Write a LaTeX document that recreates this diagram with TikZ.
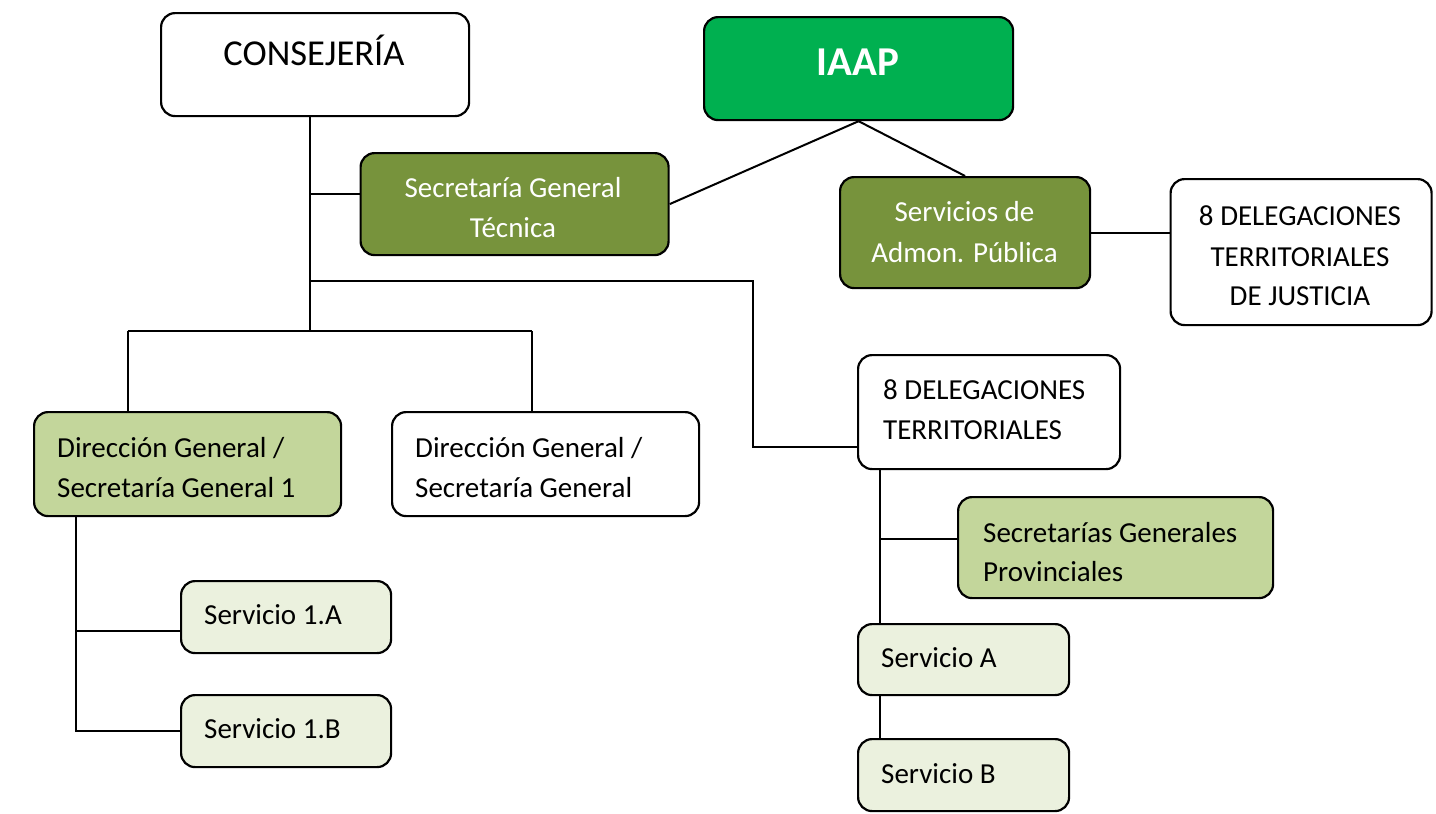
\documentclass[tikz,border=0pt]{standalone}
\usepackage{fontspec}
\setmainfont{Carlito}
\usetikzlibrary{calc}
\definecolor{iaapgreen}{HTML}{00B050}
\definecolor{olive}{HTML}{77933C}
\definecolor{lightolive}{HTML}{C3D69B}
\definecolor{paleolive}{HTML}{EBF1DE}
\begin{document}
\begin{tikzpicture}[x=1pt,y=-1pt,
  box/.style={draw=black, line width=2.2pt, rounded corners=14pt, inner sep=0pt, anchor=north west},
  conn/.style={draw=black, line width=2pt},
  txt/.style={font=\fontsize{29}{40}\selectfont, inner sep=0pt},
  wtxt/.style={txt, text=white},
]
\useasboundingbox (0,0) rectangle (1436,814);

% boxes
\node[box, fill=white, minimum width=308pt, minimum height=103pt] (cons) at (160,12) {};
\node[box, fill=iaapgreen, minimum width=309pt, minimum height=103pt] (iaap) at (703,16) {};
\node[box, fill=olive, minimum width=308pt, minimum height=102pt] (sgt) at (359.5,152) {};
\node[box, fill=olive, minimum width=250pt, minimum height=111pt] (sap) at (839,176) {};
\node[box, fill=white, minimum width=261pt, minimum height=146pt] (just) at (1169.5,178) {};
\node[box, fill=white, minimum width=262pt, minimum height=114pt] (del) at (857,354) {};
\node[box, fill=lightolive, minimum width=315pt, minimum height=101pt] (sgp) at (957,496) {};
\node[box, fill=paleolive, minimum width=211pt, minimum height=71pt] (sa) at (857,623) {};
\node[box, fill=paleolive, minimum width=211pt, minimum height=72pt] (sb) at (857,738) {};
\node[box, fill=lightolive, minimum width=307pt, minimum height=104pt] (dg1) at (33,411) {};
\node[box, fill=white, minimum width=307pt, minimum height=104pt] (dg2) at (391,411) {};
\node[box, fill=paleolive, minimum width=210pt, minimum height=72pt] (s1a) at (180,580) {};
\node[box, fill=paleolive, minimum width=210pt, minimum height=72pt] (s1b) at (180,694) {};

% texts
\node[txt, font=\fontsize{36.5}{40}\selectfont, anchor=base] (cons-t) at (314,65) {CONSEJERÍA};
\node[wtxt, font=\fontsize{41}{40}\selectfont\bfseries, anchor=base] (iaap-t) at (858,75) {IAAP};
\node[wtxt, anchor=base] (sgt-t1) at (513,197) {Secretaría General};
\node[wtxt, anchor=base] (sgt-t2) at (513,237) {Técnica};
\node[wtxt, anchor=base] (sap-t1) at (964.5,221) {Servicios de};
\node[wtxt, anchor=base] (sap-t2) at (964.5,262) {Admon. Pública};
\node[txt, anchor=base] (just-t1) at (1300,225) {8 DELEGACIONES};
\node[txt, anchor=base] (just-t2) at (1300,266) {TERRITORIALES};
\node[txt, anchor=base] (just-t3) at (1300,305) {DE JUSTICIA};
\node[txt, anchor=base west] (del-t1) at (883,399) {8 DELEGACIONES};
\node[txt, anchor=base west] (del-t2) at (883,439) {TERRITORIALES};
\node[txt, anchor=base west] (sgp-t1) at (983,542) {Secretarías Generales};
\node[txt, anchor=base west] (sgp-t2) at (983,581) {Provinciales};
\node[txt, anchor=base west] (sa-t) at (881,667) {Servicio A};
\node[txt, anchor=base west] (sb-t) at (881,783) {Servicio B};
\node[txt, anchor=base west] (dg1-t1) at (57,457) {Dirección General /};
\node[txt, anchor=base west] (dg1-t2) at (57,497) {Secretaría General 1};
\node[txt, anchor=base west] (dg2-t1) at (415,457) {Dirección General /};
\node[txt, anchor=base west] (dg2-t2) at (415,497) {Secretaría General};
\node[txt, anchor=base west] (s1a-t) at (204,624) {Servicio 1.A};
\node[txt, anchor=base west] (s1b-t) at (204,738) {Servicio 1.B};

% junctions
\coordinate (jA) at (309.5,194);
\coordinate (jB) at (309.5,281);
\coordinate (jC) at (309.5,331);
\coordinate (jD) at (753,281);
\coordinate (jE) at (753,447);
\coordinate (jF) at (127.5,331);
\coordinate (jG) at (532,331);
\coordinate (jH) at (76,731);
\coordinate (jI) at (76,631);
\coordinate (jJ) at (880,539);

% connectors
\draw[conn] (cons.south -| jC) -- (jC);
\draw[conn] (jA) -- (sgt.west |- jA);
\draw[conn] (jB) -- (jD) -- (jE) -- (jE -| del.west);
\draw[conn] (jF) -- (jG);
\draw[conn] (jF) -- (jF |- dg1.north);
\draw[conn] (jG) -- (jG |- dg2.north);
\draw[conn] (iaap.south) -- (sgt.east);
\draw[conn] (iaap.south) -- (sap.north);
\draw[conn] (sap.east) -- (just.west |- sap.east);
\draw[conn] (dg1.south -| jH) -- (jH) -- (jH -| s1b.west);
\draw[conn] (jI) -- (jI -| s1a.west);
\draw[conn] (del.south -| jJ) -- (sa.north -| jJ);
\draw[conn] (jJ) -- (jJ -| sgp.west);
\draw[conn] (sa.south -| jJ) -- (sb.north -| jJ);
\end{tikzpicture}
\end{document}
